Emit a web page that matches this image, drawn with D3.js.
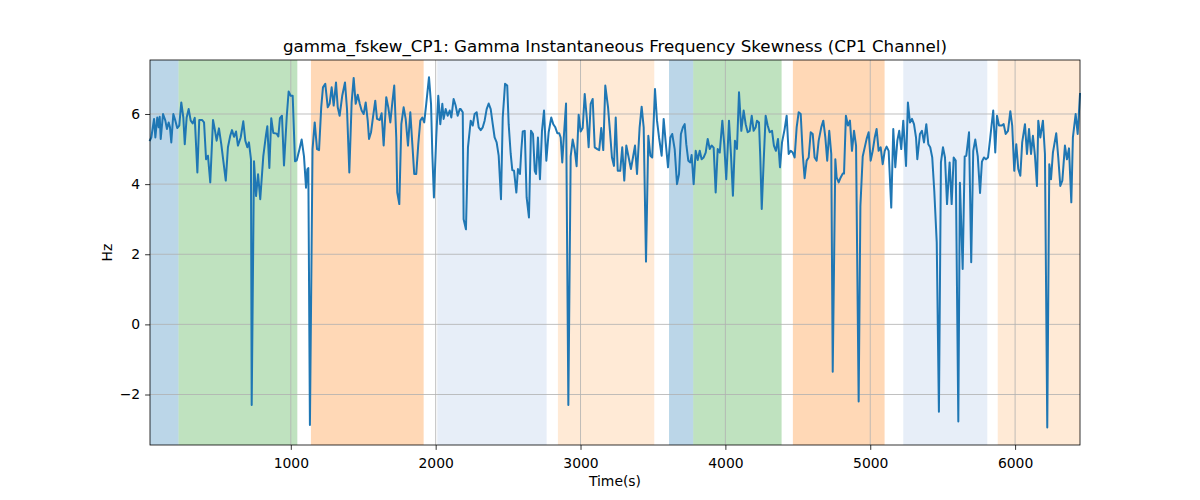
<!DOCTYPE html>
<html><head><meta charset="utf-8">
<script src="https://cdn.jsdelivr.net/npm/d3@7"></script>
<style>body{margin:0;background:#fff} svg{display:block}</style>
</head><body>
<svg id="chart" width="1200" height="500"></svg>
<script>
const chartTitle = "gamma_fskew_CP1: Gamma Instantaneous Frequency Skewness (CP1 Channel)";
const xLabel = "Time(s)";
const yLabel = "Hz";
const xTicks = [1000, 2000, 3000, 4000, 5000, 6000];
const yTicks = [-2, 0, 2, 4, 6];

const spanStarts = [28, 225, 1139, 2011, 2844, 3611, 3778, 4466, 5228, 5880];
const spanEnds   = [225, 1045, 1917, 2766, 3509, 3778, 4388, 5099, 5808, 6448];
const spanColors = ["#1f77b4", "#2ca02c", "#ff7f0e", "#aec7e8", "#ffbb78",
                    "#1f77b4", "#2ca02c", "#ff7f0e", "#aec7e8", "#ffbb78"];

const times = [
28,37,56,65,78,88,95,102,118,134,145,157,166,175,189,203,216,230,244,258,268,281,295,309,323,337,355,368,387,401,415,428,444,463,475,488,504,520,534,551,566,582,594,608,622,635,654,672,686,700,711,725,730,746,760,774,789,810,829,838,852,865,879,903,914,925,939,953,972,985,999,1013,1029,1041,1059,1075,1091,1105,1114,1121,1132,1150,1165,1181,1195,1210,1222,1238,
1255,1268,1282,1296,1312,1324,1337,1355,1374,1388,1404,1420,1434,1448,1462,1476,1489,1503,1517,1531,1540,1554,1567,1583,1595,1614,1627,1641,1659,1673,1687,1701,1714,1728,1735,1749,1763,1779,1793,1809,1825,1839,1852,1866,1880,1894,1908,1921,1935,1954,1968,1977,1988,2004,2018,2032,2046,2055,2069,2083,2097,2108,2124,2138,2152,2166,2173,2187,2193,2209,2223,2242,2256,2269,2283,2297,2311,2325,2338,2352,2366,2380,2394,2407,2421,2435,2451,2463,2479,2494,2504,2518,2529,2541,2557,2568,2582,2591,2601,2615,2628,2644,2658,2672,2684,2693,2706,2720,2734,2748,2764,2780,2798,2812,2826,2840,2853,2863,2874,2886,2900,2916,2932,2946,2960,2973,2987,3001,3015,3029,3043,3056,3070,3084,3098,3116,3129,3143,3157,3171,3190,3203,3217,3231,3243,3257,3274,3288,3302,3316,3330,3348,3362,3376,3390,3408,3422,3436,3452,3468,3482,3495,3514,3528,3542,3560,3574,3588,3604,3620,3633,3650,3666,3680,3693,3707,3719,3730,3744,3758,3767,3781,3795,3809,3823,3836,3850,3864,3878,3892,3905,3919,3933,3947,3961,3979,3992,4006,4025,4039,4052,4066,4080,4094,4110,4126,4140,4154,4168,4182,4195,4209,4218,4232,4241,4251,4264,4278,4292,4306,4322,4335,4349,4363,4377,4391,4409,4423,4437,4451,4465,4478,4492,4506,4520,4534,4547,4561,4575,4589,4603,4616,4630,4644,4662,4676,4690,4703,4717,4731,4741,4759,4768,4782,4796,4810,4819,4832,4846,4860,4874,4888,4902,4920,4932,4948,4975,4989,5003,5017,5031,5044,5058,5072,5086,5100,5113,5127,5145,5159,5173,5187,5200,5214,5228,5247,5260,5274,5288,5302,5316,5325,5343,5357,5371,5387,5401,5414,5428,5442,5459,5474,5488,5502,5516,5530,5548,5562,5576,5590,5608,5619,5638,5652,5663,5682,5697,5711,5725,5742,5758,5771,5785,5799,5813,5827,5838,5849,5863,5875,5889,5907,5921,5935,5951,5967,5980,5994,6008,6022,6036,6049,6068,6082,6096,6110,6123,6137,6151,6160,6174,6192,6206,6222,6236,6248,6261,6284,6298,6312,6326,6344,6358,6372,6388,6399,6418,6432,6448
];

const values = [
5.25,5.33,5.86,5.33,5.90,5.62,5.92,5.29,6.0,5.81,5.57,5.76,5.62,5.19,6.0,5.81,5.6,5.67,6.33,5.9,5.14,5.9,6.14,5.81,5.73,5.89,4.33,5.83,5.83,5.76,4.71,4.81,4.05,5.83,5.57,5.24,5.59,5.14,4.67,4.1,5.05,5.38,5.54,5.35,5.5,5.1,5.33,5.79,5.24,5.05,5.19,4.71,-2.3,4.65,3.66,4.28,3.57,4.79,5.41,5.65,4.46,5.88,5.46,5.44,5.36,5.88,5.95,4.53,5.93,6.64,6.52,6.52,4.65,4.68,4.98,5.27,4.79,3.9,4.42,4.46,-2.87,5.0,5.76,5.0,4.97,6.19,6.76,6.86,
6.19,6.29,6.76,6.24,6.9,6.19,5.95,6.52,6.9,6.14,4.33,6.33,7.03,6.29,6.55,6.29,6.1,6.0,6.33,5.81,5.29,5.48,5.9,6.38,5.86,5.83,6.02,5.1,6.48,6.19,5.76,6.33,6.81,5.33,3.76,3.43,5.71,6.19,5.86,5.1,6.05,5.14,4.29,4.29,5.14,5.81,5.9,5.76,6.29,7.05,6.29,4.86,3.62,5.33,6.52,5.71,6.29,5.86,6.14,5.95,6.1,5.9,6.43,6.24,5.95,6.14,6.14,6.05,3.0,2.71,5.05,5.81,5.67,6.0,6.05,5.62,5.54,5.62,5.81,6.14,6.3,6.14,5.71,5.33,5.19,4.81,3.57,5.9,6.86,6.81,5.71,4.86,4.4,4.38,3.76,4.43,4.29,4.95,5.5,5.52,3.62,3.05,5.52,5.43,4.38,4.29,5.33,4.14,5.52,6.1,4.67,5.48,5.9,5.71,5.62,5.45,5.45,5.33,4.62,5.43,6.3,-2.3,4.79,5.27,4.98,4.51,5.98,5.5,5.6,6.57,5.9,5.05,6.29,6.43,5.05,5.0,4.97,5.6,4.97,6.81,6.19,5.52,4.76,4.52,5.9,4.38,4.38,5.05,4.1,5.1,4.81,4.43,4.76,5.1,4.29,5.62,6.21,5.62,1.79,5.38,4.81,4.76,6.71,5.81,5.33,4.81,5.86,5.19,4.48,5.33,5.43,5.0,4.0,4.29,5.43,5.62,5.71,5.14,4.67,4.62,4.83,4.0,4.95,4.69,4.95,4.71,4.76,4.9,5.29,5.0,5.1,5.04,3.76,5.0,4.9,5.81,5.14,4.14,5.81,4.81,3.67,5.24,5.0,6.62,5.52,6.1,5.71,5.48,5.52,5.95,5.52,5.62,5.81,5.76,4.76,3.29,4.62,5.95,5.67,5.48,5.52,5.1,4.95,5.29,4.48,5.19,5.57,5.95,4.86,4.95,4.9,4.76,5.62,6.05,6.0,4.86,4.17,4.67,4.76,5.48,5.43,4.76,4.67,5.24,5.62,5.81,5.33,4.67,5.52,4.86,-1.35,4.71,4.19,4.05,4.19,4.3,4.3,5.95,5.67,5.81,4.95,5.52,5.1,-2.2,3.37,4.79,5.29,5.48,4.67,4.95,5.33,5.57,4.95,5.05,4.57,4.95,5.07,4.95,3.33,5.57,4.48,5.24,5.52,5.0,5.81,4.52,6.33,5.76,5.86,5.71,5.33,4.71,5.43,5.52,5.19,5.71,5.14,5.05,4.76,3.81,2.34,-2.49,4.62,5.05,4.76,3.43,4.62,3.43,4.76,4.67,-2.77,4.04,1.58,4.79,4.81,5.48,1.77,4.95,5.27,4.8,3.75,4.64,4.76,4.71,4.76,5.27,5.7,6.1,4.9,5.95,5.67,5.67,5.71,5.43,5.52,6.08,5.67,4.38,5.14,4.43,4.24,5.19,5.71,4.86,5.57,4.86,5.38,4.81,3.95,5.81,5.33,5.81,4.86,-2.94,4.57,4.14,4.9,5.45,4.76,3.95,4.1,5.1,4.71,5.02,3.48,5.33,6.0,5.43,6.57
];

const W = 1200, H = 500;
const margin = {left: 150, top: 60, right: 120, bottom: 55};
const iw = W - margin.left - margin.right;  // 930
const ih = H - margin.top - margin.bottom;  // 385
const font = "'DejaVu Sans', sans-serif";

const svg = d3.select("#chart");
const g = svg.append("g").attr("transform", `translate(${margin.left},${margin.top})`);

const x = d3.scaleLinear().domain([28, 6448]).range([0, iw]);
const y = d3.scaleLinear().domain([-3.44, 7.54]).range([ih, 0]);

// spans
const spans = spanStarts.map((s, i) => ({s, e: spanEnds[i], c: spanColors[i]}));
g.append("g").selectAll("rect").data(spans).join("rect")
  .attr("x", d => x(d.s)).attr("width", d => x(d.e) - x(d.s))
  .attr("y", 0).attr("height", ih)
  .attr("fill", d => d.c).attr("fill-opacity", 0.3);

// grid
const grid = g.append("g").attr("stroke", "#b0b0b0").attr("stroke-width", 0.8);
grid.selectAll(".gx").data(xTicks).join("line")
  .attr("x1", d => x(d)).attr("x2", d => x(d)).attr("y1", 0).attr("y2", ih);
grid.selectAll(".gy").data(yTicks).join("line")
  .attr("y1", d => y(d)).attr("y2", d => y(d)).attr("x1", 0).attr("x2", iw);

// line
const data = times.map((t, i) => ({t, v: values[i]}));
g.append("path").datum(data)
  .attr("fill", "none").attr("stroke", "#1f77b4").attr("stroke-width", 2)
  .attr("stroke-linejoin", "round").attr("stroke-linecap", "square")
  .attr("d", d3.line().x(d => x(d.t)).y(d => y(d.v)));

// axes
const fmt = d => d < 0 ? "\u2212" + Math.abs(d) : String(d);
const xa = g.append("g").attr("transform", `translate(0,${ih})`)
  .call(d3.axisBottom(x).tickValues(xTicks).tickSize(4.9).tickPadding(8.5).tickFormat(fmt));
const ya = g.append("g")
  .call(d3.axisLeft(y).tickValues(yTicks).tickSize(4.9).tickPadding(4.9).tickFormat(fmt));
[xa, ya].forEach(a => {
  a.select(".domain").remove();
  a.selectAll(".tick line").attr("stroke", "#000").attr("stroke-width", 0.8);
  a.selectAll(".tick text").attr("fill", "#000").style("font-family", font).style("font-size", "13.9px");
});

// spines
g.append("rect").attr("x", 0).attr("y", 0).attr("width", iw).attr("height", ih)
  .attr("fill", "none").attr("stroke", "#000").attr("stroke-width", 0.8);

// labels
svg.append("text").attr("x", margin.left + iw / 2).attr("y", 51.5)
  .attr("text-anchor", "middle").style("font-family", font).style("font-size", "16.7px")
  .text(chartTitle);
svg.append("text").attr("x", margin.left + iw / 2).attr("y", 486)
  .attr("text-anchor", "middle").style("font-family", font).style("font-size", "13.9px")
  .text(xLabel);
svg.append("text").attr("transform", `translate(112,${margin.top + ih / 2}) rotate(-90)`)
  .attr("text-anchor", "middle").style("font-family", font).style("font-size", "13.9px")
  .text(yLabel);
</script>
</body></html>
